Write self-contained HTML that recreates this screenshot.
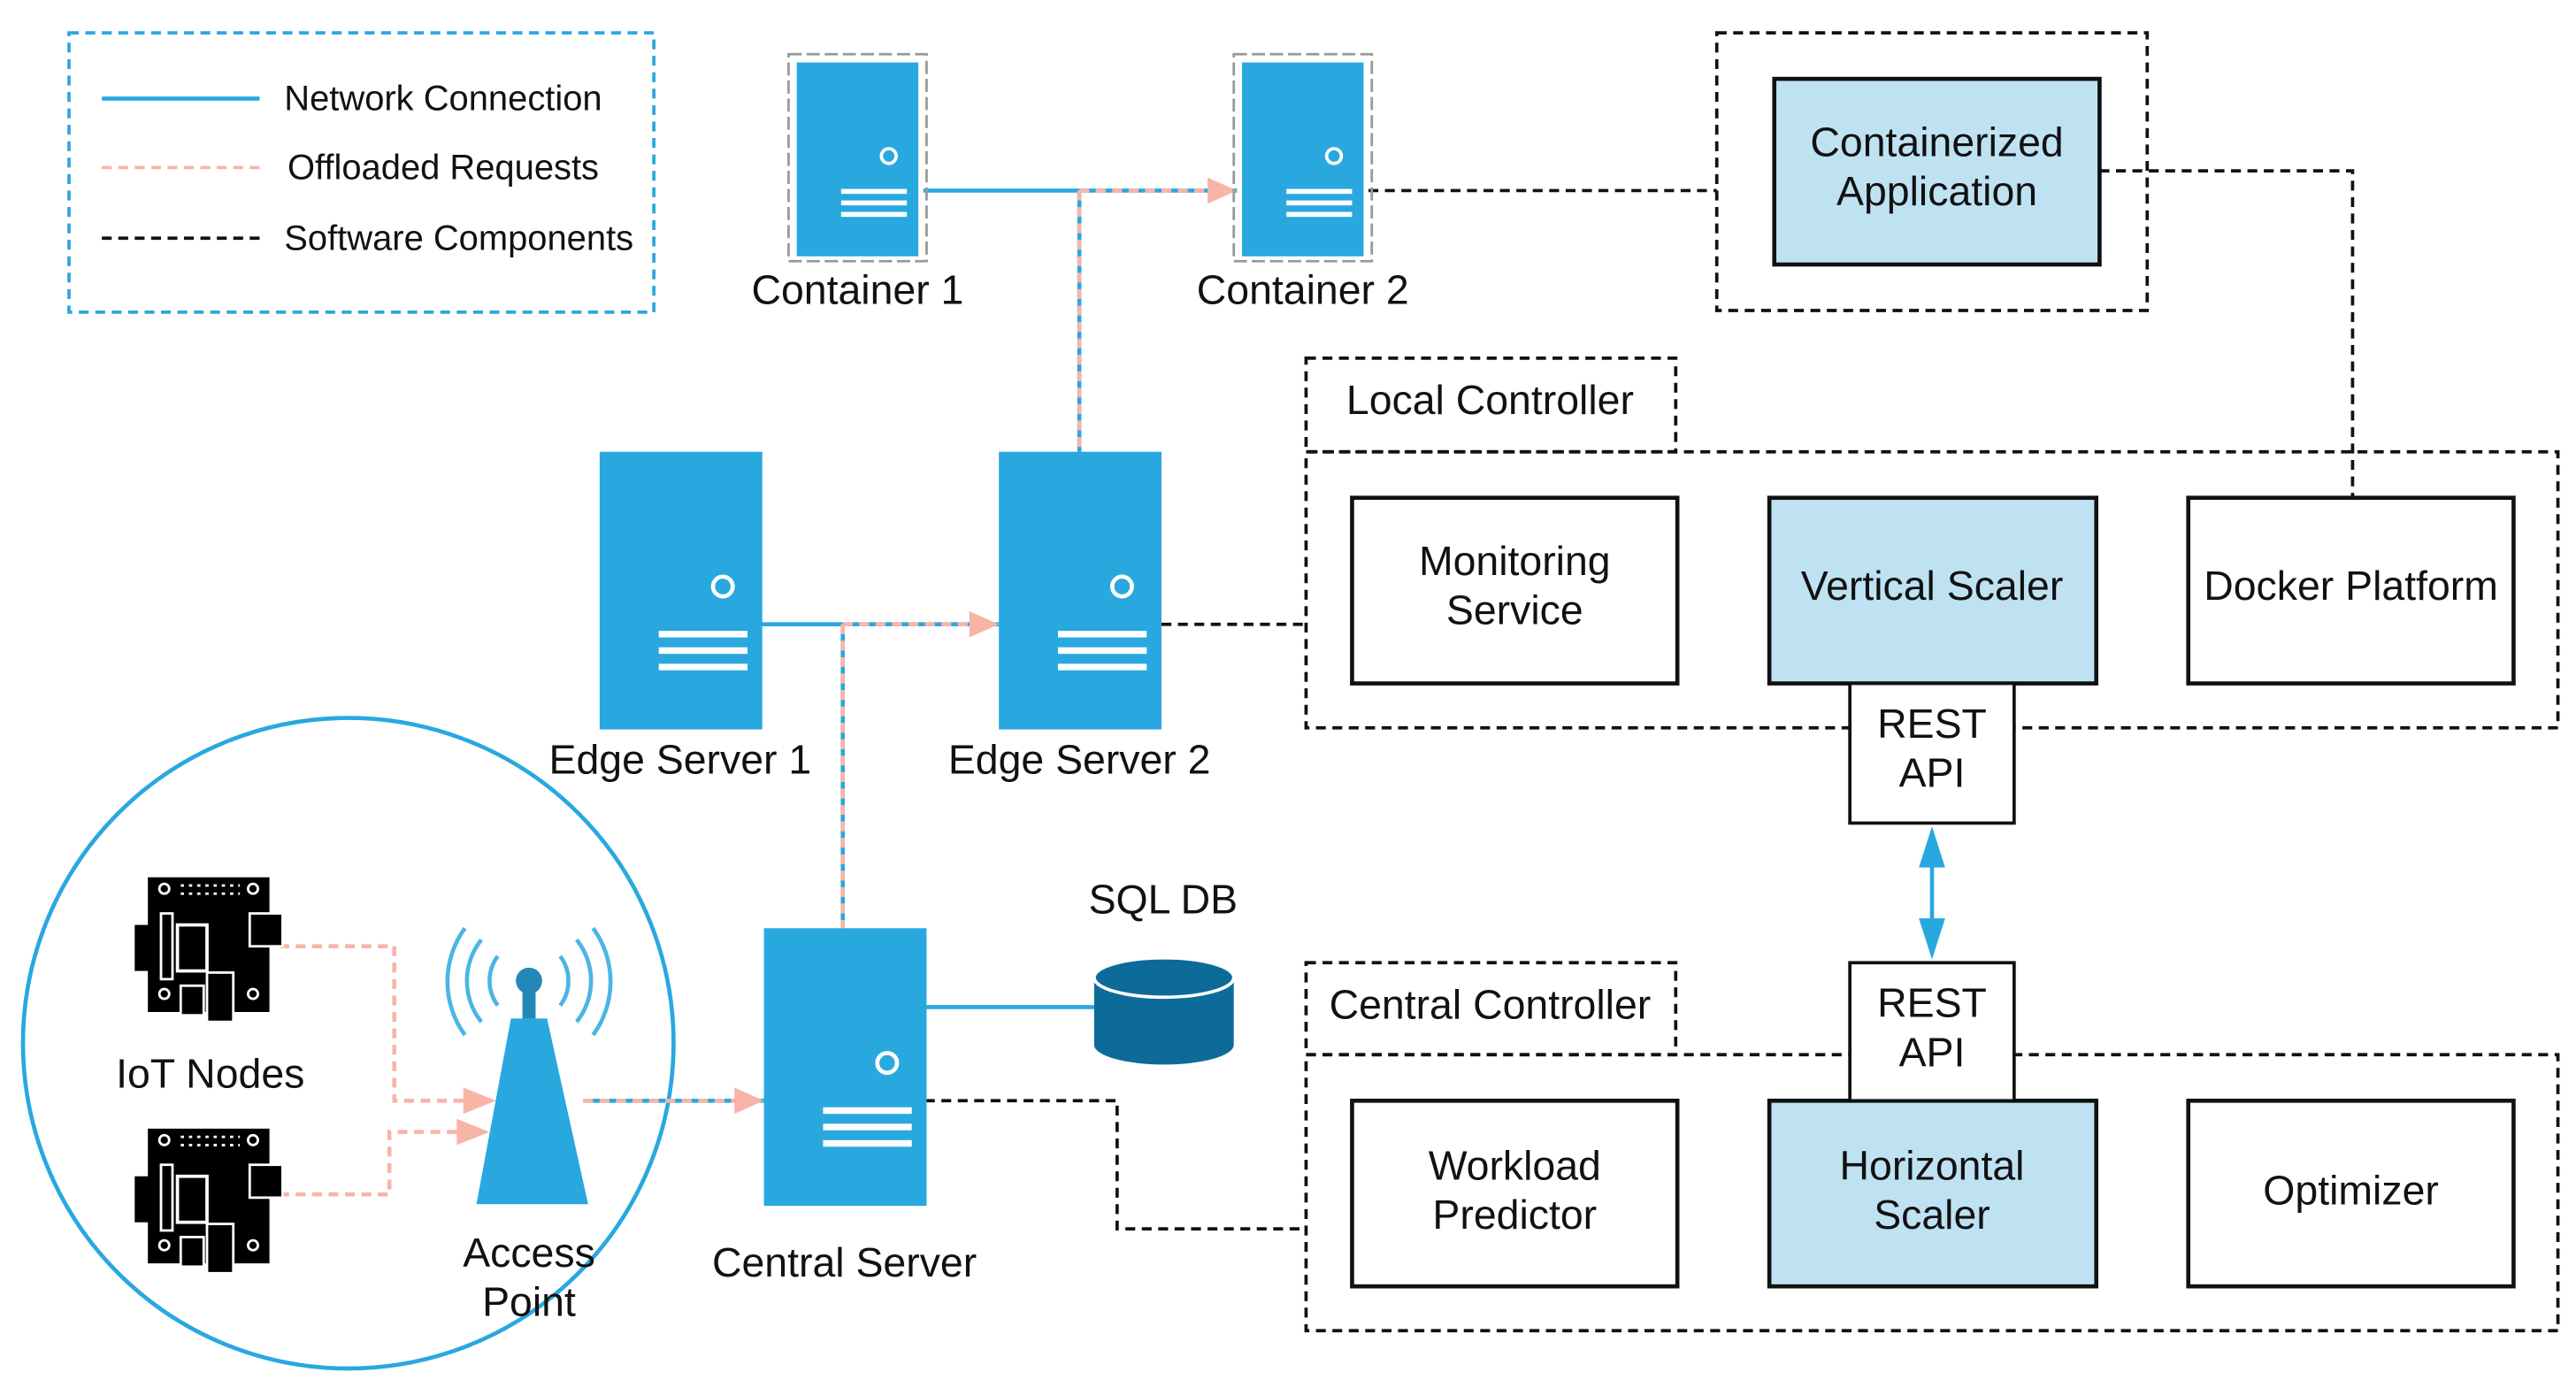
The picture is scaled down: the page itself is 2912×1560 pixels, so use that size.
<!DOCTYPE html>
<html><head><style>html,body{margin:0;padding:0;background:#fff}svg{display:block}text{font-family:"Liberation Sans",sans-serif;fill:#111}</style></head>
<body>
<svg width="2912" height="1560" viewBox="0 0 1568 840" xmlns="http://www.w3.org/2000/svg">
<defs>
<g id="srv"><rect x="0" y="0" width="99" height="169" fill="#29a8e0"/><circle cx="75" cy="82" r="6" fill="none" stroke="#fff" stroke-width="2.5"/><rect x="36" y="109" width="54" height="4" fill="#fff"/><rect x="36" y="119" width="54" height="4" fill="#fff"/><rect x="36" y="129" width="54" height="4" fill="#fff"/></g>
<g id="ctr"><rect x="-2" y="-2" width="84" height="126" fill="none" stroke="#999" stroke-width="1.5" stroke-dasharray="8,3"/><rect x="3" y="3" width="74" height="118" fill="#29a8e0"/><circle cx="59" cy="60" r="4.5" fill="none" stroke="#fff" stroke-width="2"/><rect x="30" y="80" width="40" height="3" fill="#fff"/><rect x="30" y="87" width="40" height="3" fill="#fff"/><rect x="30" y="94" width="40" height="3" fill="#fff"/></g>
<g id="iot"><rect x="0" y="0" width="74" height="82" fill="#000"/><rect x="-8" y="29" width="10" height="28" fill="#000"/><rect x="62" y="22" width="20" height="20" fill="#000" stroke="#fff" stroke-width="1.5"/><rect x="18" y="29" width="18" height="28" fill="none" stroke="#fff" stroke-width="2"/><rect x="8" y="22" width="7" height="40" fill="none" stroke="#fff" stroke-width="1.5"/><circle cx="10" cy="7" r="3" fill="none" stroke="#fff" stroke-width="1.5"/><circle cx="64" cy="7" r="3" fill="none" stroke="#fff" stroke-width="1.5"/><circle cx="10" cy="71" r="3" fill="none" stroke="#fff" stroke-width="1.5"/><circle cx="64" cy="71" r="3" fill="none" stroke="#fff" stroke-width="1.5"/><line x1="20" y1="5" x2="56" y2="5" stroke="#fff" stroke-width="1.5" stroke-dasharray="2,3"/><line x1="20" y1="10" x2="56" y2="10" stroke="#fff" stroke-width="1.5" stroke-dasharray="2,3"/><rect x="36" y="58" width="16" height="30" fill="#000" stroke="#fff" stroke-width="1.5"/><rect x="20" y="66" width="14" height="18" fill="#000" stroke="#fff" stroke-width="1.5"/></g>
</defs>
<rect x="42" y="20" width="356" height="170" fill="none" stroke="#29a8e0" stroke-width="2" stroke-dasharray="6,4"/>
<line x1="62" y1="60" x2="158" y2="60" stroke="#29a8e0" stroke-width="2.5"/>
<line x1="62" y1="102" x2="158" y2="102" stroke="#f9b4a8" stroke-width="2" stroke-dasharray="6,4"/>
<line x1="62" y1="145" x2="158" y2="145" stroke="#111" stroke-width="2" stroke-dasharray="6,4"/>
<text x="173" y="67" font-size="21.5">Network Connection</text>
<text x="175" y="109" font-size="21.5">Offloaded Requests</text>
<text x="173" y="152" font-size="21.5">Software Components</text>
<circle cx="212" cy="635" r="198" fill="none" stroke="#29a8e0" stroke-width="2.5"/>
<g stroke="#29a8e0" stroke-width="2.5" fill="none">
<line x1="562" y1="116" x2="753" y2="116"/><line x1="657" y1="116" x2="657" y2="275"/>
<line x1="463" y1="380" x2="608" y2="380"/><line x1="513" y1="380" x2="513" y2="565"/>
<line x1="563" y1="613" x2="666" y2="613"/><line x1="355" y1="670" x2="465" y2="670"/>
</g>
<g stroke="#f9b4a8" stroke-width="2.5" fill="none" stroke-dasharray="6,4">
<line x1="657" y1="116" x2="735" y2="116"/><line x1="657" y1="116" x2="657" y2="275"/>
<line x1="513" y1="380" x2="590" y2="380"/><line x1="513" y1="380" x2="513" y2="565"/>
<line x1="355" y1="670" x2="447" y2="670"/>
<polyline points="170,576 240,576 240,670 282,670"/>
<polyline points="170,727 237,727 237,689 278,689"/>
</g>
<g fill="#f9b4a8">
<polygon points="735,108 753,116 735,124"/><polygon points="590,372 608,380 590,388"/>
<polygon points="447,662 465,670 447,678"/><polygon points="282,662 302,670 282,678"/><polygon points="278,681 298,689 278,697"/>
</g>
<g stroke="#111" stroke-width="2" fill="none" stroke-dasharray="6,4">
<line x1="833" y1="116" x2="1045" y2="116"/>
<polyline points="1278,104 1432,104 1432,303"/>
<line x1="707" y1="380" x2="795" y2="380"/>
<polyline points="563,670 680,670 680,748 795,748"/>
<rect x="1045" y="20" width="262" height="169"/>
<rect x="795" y="218" width="225" height="57"/>
<rect x="795" y="275" width="762" height="168"/>
<rect x="795" y="586" width="225" height="56"/>
<rect x="795" y="642" width="762" height="168"/>
</g>
<use href="#ctr" x="482" y="35"/><use href="#ctr" x="753" y="35"/>
<use href="#srv" x="365" y="275"/><use href="#srv" x="608" y="275"/><use href="#srv" x="465" y="565"/>
<g font-size="25" text-anchor="middle">
<text x="522" y="185">Container 1</text>
<text x="793" y="185">Container 2</text>
<text x="414" y="471">Edge Server 1</text>
<text x="657" y="471">Edge Server 2</text>
<text x="514" y="777">Central Server</text>
<text x="708" y="556">SQL DB</text>
<text x="322" y="771">Access</text>
<text x="322" y="801">Point</text>
<text x="128" y="662">IoT Nodes</text>
</g>
<path d="M666,595 L666,636 A42.5,12 0 0 0 751,636 L751,595" fill="#0d6b9a"/>
<ellipse cx="708.5" cy="595" rx="42.5" ry="12" fill="#0d6b9a" stroke="#fff" stroke-width="2"/>
<polygon points="311,620 333,620 358,733 290,733" fill="#29a8e0"/>
<rect x="318" y="600" width="8" height="20" fill="#2388b8"/><circle cx="322" cy="597" r="8" fill="#2388b8"/>
<g fill="none" stroke="#4bb5e5" stroke-width="2.5">
<path d="M303,582 A25,25 0 0 0 303,612"/><path d="M341,582 A25,25 0 0 1 341,612"/>
<path d="M293,572 A40,40 0 0 0 293,622"/><path d="M351,572 A40,40 0 0 1 351,622"/>
<path d="M283,565 A55,55 0 0 0 283,630"/><path d="M361,565 A55,55 0 0 1 361,630"/>
</g>
<use href="#iot" x="90" y="534"/><use href="#iot" x="90" y="687"/>
<g stroke="#111" stroke-width="2.5">
<rect x="1080" y="48" width="198" height="113" fill="#bfe2f3"/>
<rect x="823" y="303" width="198" height="113" fill="#fff"/>
<rect x="1077" y="303" width="199" height="113" fill="#bfe2f3"/>
<rect x="1332" y="303" width="198" height="113" fill="#fff"/>
<rect x="823" y="670" width="198" height="113" fill="#fff"/>
<rect x="1077" y="670" width="199" height="113" fill="#bfe2f3"/>
<rect x="1332" y="670" width="198" height="113" fill="#fff"/>
</g>
<g stroke="#111" stroke-width="2" fill="#fff">
<rect x="1126" y="416" width="100" height="85"/>
<rect x="1126" y="586" width="100" height="84"/>
</g>
<g font-size="25" text-anchor="middle">
<text x="1179" y="95">Containerized</text><text x="1179" y="125">Application</text>
<text x="907" y="252">Local Controller</text>
<text x="907" y="620">Central Controller</text>
<text x="922" y="350">Monitoring</text><text x="922" y="380">Service</text>
<text x="1176" y="365">Vertical Scaler</text>
<text x="1431" y="365">Docker Platform</text>
<text x="1176" y="449">REST</text><text x="1176" y="479">API</text>
<text x="1176" y="619">REST</text><text x="1176" y="649">API</text>
<text x="922" y="718">Workload</text><text x="922" y="748">Predictor</text>
<text x="1176" y="718">Horizontal</text><text x="1176" y="748">Scaler</text>
<text x="1431" y="733">Optimizer</text>
</g>
<line x1="1176" y1="515" x2="1176" y2="572" stroke="#29a8e0" stroke-width="2.5"/>
<polygon points="1168,528 1176,503 1184,528" fill="#29a8e0"/>
<polygon points="1168,559 1176,584 1184,559" fill="#29a8e0"/>
</svg>
</body></html>
